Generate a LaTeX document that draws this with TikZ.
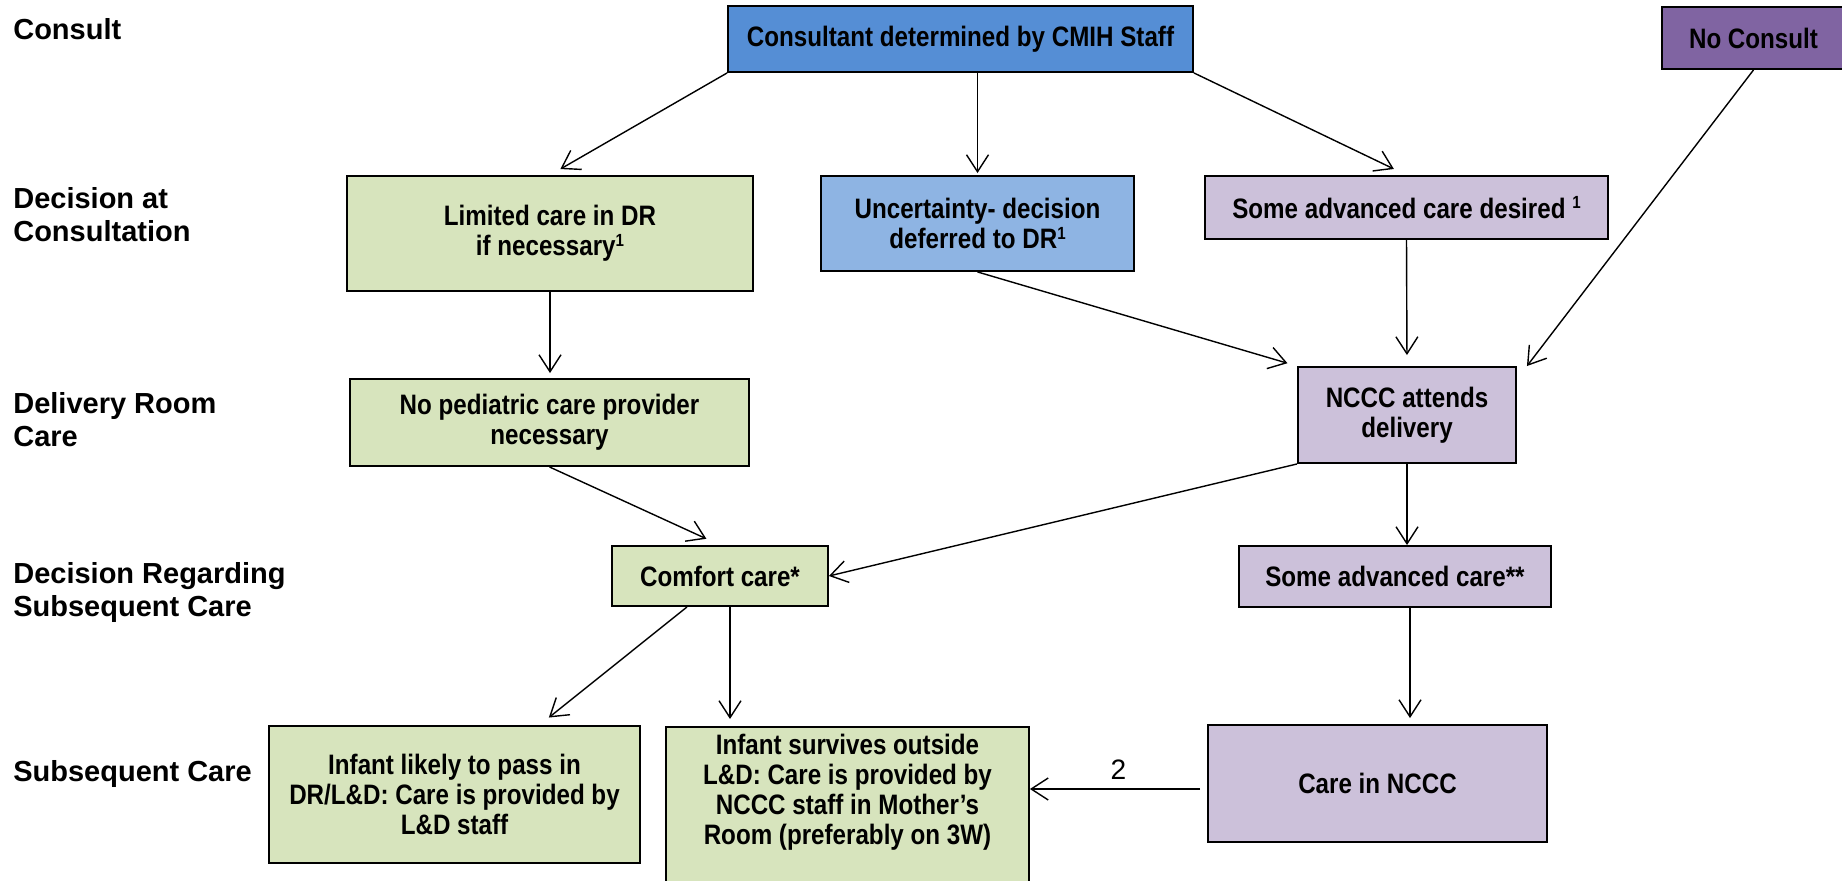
\documentclass[tikz,border=0pt]{standalone}
\usepackage{fontspec}
\setmainfont{Liberation Sans}
\newfontfamily\narrowsans[FakeStretch=0.86]{Liberation Sans}
\usepackage{tikz}
\usetikzlibrary{arrows.meta}
\usetikzlibrary{positioning,calc}
\usepackage{xcolor}
\definecolor{consultblue}{HTML}{558ED5}
\definecolor{deferblue}{HTML}{8EB4E3}
\definecolor{noconsultpurple}{HTML}{8064A2}
\definecolor{caregreen}{HTML}{D7E4BD}
\definecolor{carelilac}{HTML}{CCC1DA}
\newcommand{\fnmark}[1]{\raisebox{0.62ex}{\fontsize{10}{10}\selectfont #1}}
\tikzset{
    stage/.style={
        anchor=north west,
        align=left,
        inner sep=0pt,
        font=\bfseries\fontsize{16.5}{19}\selectfont
    },
    box/.style={
        draw,
        line width=1.1pt,
        align=center,
        inner sep=2pt,
        font=\narrowsans\bfseries\fontsize{16}{17.2}\selectfont
    },
    greenbox/.style={box, fill=caregreen},
    lilacbox/.style={box, fill=carelilac},
    link/.style={
        draw,
        -{Straight Barb[length=0.34cm, width=0.44cm]},
        line width=0.8pt
    }
}

\begin{document}
\begin{tikzpicture}[x=0.02cm, y=-0.02cm]
    \useasboundingbox (0,0) rectangle (1842,881);
    \clip (0,0) rectangle (1842,881);

    \node[stage] (rowconsult) at (13,18) {Consult};
    \node[stage] (rowdecision) at (13,187) {Decision at\\Consultation};
    \node[stage] (rowdelivery) at (13,392) {Delivery Room\\Care};
    \node[stage] (rowregarding) at (13,562) {Decision Regarding\\Subsequent Care};
    \node[stage] (rowsubsequent) at (13,760) {Subsequent Care};

    \node[box, fill=consultblue, minimum width=9.30cm, minimum height=1.32cm] (consultant) at (960.5,39) {Consultant determined by CMIH Staff};
    \node[box, fill=noconsultpurple, minimum width=3.66cm, minimum height=1.24cm] (noconsult) at (1753.5,38) {No Consult};
    \node[greenbox, minimum width=8.12cm, minimum height=2.30cm] (limited) at (550,233.5) {Limited care in DR\\if necessary\fnmark{1}};
    \node[box, fill=deferblue, minimum width=6.26cm, minimum height=1.90cm] (uncertain) at (977.5,223.5) {Uncertainty- decision\\deferred to DR\fnmark{1}};
    \node[lilacbox, minimum width=8.06cm, minimum height=1.26cm] (desired) at (1406.5,207.5) {Some advanced care desired \fnmark{1}};
    \node[greenbox, minimum width=7.98cm, minimum height=1.74cm] (nopediatric) at (549.5,422.5) {No pediatric care provider\\necessary};
    \node[lilacbox, minimum width=4.36cm, minimum height=1.92cm] (attends) at (1407,415) {NCCC attends\\delivery};
    \node[greenbox, minimum width=4.32cm, minimum height=1.20cm] (comfort) at (720,576) {Comfort care*};
    \node[lilacbox, minimum width=6.24cm, minimum height=1.22cm] (advanced) at (1395,576.5) {Some advanced care**};
    \node[greenbox, minimum width=7.42cm, minimum height=2.74cm] (likely) at (454.5,794.5) {Infant likely to pass in\\DR/L\&D: Care is provided by\\L\&D staff};
    \node[greenbox, anchor=north, minimum width=7.26cm, inner xsep=0pt, inner ysep=0.14cm] (survives) at (847.5,726) {\parbox[c][3.6cm][t]{7cm}{\centering Infant survives outside\\L\&D: Care is provided by\\NCCC staff in Mother’s\\Room (preferably on 3W)}};
    \node[lilacbox, minimum width=6.78cm, minimum height=2.34cm] (carenccc) at (1377.5,783.5) {Care in NCCC};

    \draw[link, shorten >=0.24cm] (consultant.south west) -- (limited.north);
    \draw[link, shorten >=0.04cm] (uncertain.north |- consultant.south) -- (uncertain.north);
    \draw[link, shorten >=0.28cm] (consultant.south east) -- (desired.north);
    \draw[link] (noconsult.south) -- ([xshift=0.2cm]attends.north east);

    \draw[link, shorten >=0.1cm] (limited.south) -- (limited.south |- nopediatric.north);
    \draw[link, shorten >=0.2cm] (uncertain.south) -- (attends.north west);
    \draw[link, shorten >=0.22cm] (desired.south) -- (attends.north);

    \draw[link, shorten >=0.3cm] (nopediatric.south) -- (comfort.north);
    \draw[link] (attends.south west) -- (comfort.east);
    \draw[link] (attends.south) -- (attends.south |- advanced.north);

    \draw[link, shorten >=0.24cm] ([xshift=-0.66cm]comfort.south) -- ([xshift=1.7cm]likely.north);
    \draw[link, shorten >=0.14cm] ([xshift=0.2cm]comfort.south) -- ([xshift=0.2cm]comfort.south |- survives.north);
    \draw[link, shorten >=0.12cm] ([xshift=0.3cm]advanced.south) -- ([xshift=0.3cm]advanced.south |- carenccc.north);
    \draw[link, shorten <=0.14cm] ([yshift=-0.11cm]carenccc.west) -- ([yshift=-0.11cm]carenccc.west -| survives.east)
        node[midway, above=0.18cm, inner sep=0pt, font=\fontsize{16}{18}\selectfont] (second) {2};
\end{tikzpicture}
\end{document}
